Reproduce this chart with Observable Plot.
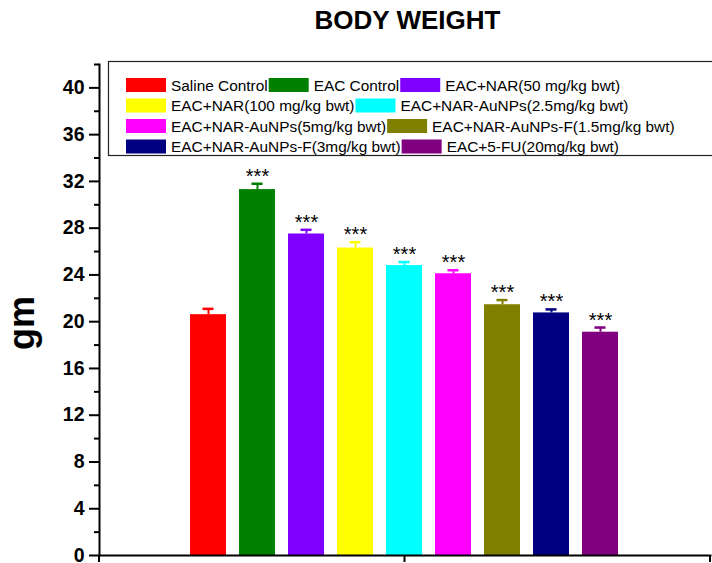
<!DOCTYPE html>
<html><head><meta charset="utf-8">
<script src="https://cdn.jsdelivr.net/npm/d3@7"></script>
<script src="https://cdn.jsdelivr.net/npm/@observablehq/plot@0.6"></script>
<style>body{margin:0;background:#fff;}</style>
</head><body><div id="chart"></div>
<script>
const groups = ["Saline Control","EAC Control","EAC+NAR(50 mg/kg bwt)","EAC+NAR(100 mg/kg bwt)","EAC+NAR-AuNPs(2.5mg/kg bwt)","EAC+NAR-AuNPs(5mg/kg bwt)","EAC+NAR-AuNPs-F(1.5mg/kg bwt)","EAC+NAR-AuNPs-F(3mg/kg bwt)","EAC+5-FU(20mg/kg bwt)"];
const means = [20.6, 31.3, 27.5, 26.3, 24.8, 24.1, 21.45, 20.75, 19.1];
const errors = [0.5, 0.5, 0.36, 0.5, 0.3, 0.3, 0.4, 0.3, 0.4];
const signif = ["", "***", "***", "***", "***", "***", "***", "***", "***"];
const colors = ["#FF0000","#008000","#8000FF","#FFFF00","#00FFFF","#FF00FF","#808000","#000080","#800080"];
const yTicks = [0,4,8,12,16,20,24,28,32,36,40];
const yMinorTicks = [2,6,10,14,18,22,26,30,34,38,42];
const legendRows = [[0,1,2],[3,4],[5,6],[7,8]];
const title = "BODY WEIGHT";
const yLabel = "gm";

const data = groups.map((g,i)=>({group:g, mean:means[i], err:errors[i], top:means[i]+errors[i], sig:signif[i]}));
const W = 712, H = 563, mL = 99, mR = 2, mT = 64, mB = 8;
const font = "'Liberation Sans', Arial, Helvetica, sans-serif";

const plot = Plot.plot({
  width: W, height: H,
  marginTop: mT, marginBottom: mB, marginLeft: mL, marginRight: mR,
  style: {fontFamily: font, background: "#fff", overflow: "visible", color: "#000"},
  x: {domain: groups, paddingInner: 0.265, paddingOuter: 1.867, axis: null},
  y: {domain: [0, 42], axis: null},
  color: {domain: groups, range: colors},
  marks: [
    Plot.barY(data, {x: "group", y: "mean", fill: "group"}),
    Plot.ruleX(data, {x: "group", y1: "mean", y2: "top", stroke: "group", strokeWidth: 2}),
    Plot.tickY(data, {x: "group", y: "top", stroke: "group", strokeWidth: 2.5, insetLeft: 12.5, insetRight: 12.5}),
    Plot.text(data, {x: "group", y: "top", text: "sig", lineAnchor: "bottom", dy: -1, fontSize: 20, fill: "#000"}),
    Plot.axisY({ticks: yTicks, tickSize: 10, tickPadding: 5, fontSize: 19.5, fontWeight: "bold", strokeWidth: 2, label: null}),
    Plot.axisY({ticks: yMinorTicks, tickSize: 5, tickFormat: () => "", strokeWidth: 2, label: null}),
    Plot.frame({anchor: "left", strokeWidth: 2}),
    Plot.frame({anchor: "bottom", strokeWidth: 2}),
    Plot.text([yLabel], {frameAnchor: "left", textAnchor: "middle", rotate: -90, lineAnchor: "bottom", dx: -66, dy: 13, fontSize: 36, fontWeight: "bold"}),
    Plot.text([title], {frameAnchor: "top", textAnchor: "middle", lineAnchor: "bottom", dx: 2.5, dy: -36, fontSize: 26, fontWeight: "bold"})
  ]
});
document.getElementById("chart").appendChild(plot);

const svg = d3.select(plot);
// bottom axis ticks (Origin style: start, middle, end)
const xl = mL, xr = W - mR, yb = H - mB;
const ax = svg.append("g").attr("stroke", "#000").attr("stroke-width", 2);
[xl, (xl + xr) / 2, xr].forEach(x => ax.append("line").attr("x1", x).attr("x2", x).attr("y1", yb).attr("y2", yb + 7));

// legend inside plot
const lg = svg.append("g").attr("font-family", font).attr("font-size", 15.4).attr("text-anchor", "start");
lg.append("rect").attr("x", 108.5).attr("y", 61.5).attr("width", 700).attr("height", 94)
  .attr("fill", "#fff").attr("stroke", "#222").attr("stroke-width", 1.2);
const rowY = [85, 105.5, 126, 146.5];
legendRows.forEach((row, r) => {
  let x = 126;
  row.forEach(i => {
    lg.append("rect").attr("x", x).attr("y", rowY[r] - 7).attr("width", 40).attr("height", 14).attr("fill", colors[i]);
    x += 45;
    const t = lg.append("text").attr("x", x).attr("y", rowY[r] + 5.5).attr("fill", "#000").attr("text-anchor", "start").text(groups[i]);
    x += t.node().getComputedTextLength() + 1;
  });
});
</script></body></html>
